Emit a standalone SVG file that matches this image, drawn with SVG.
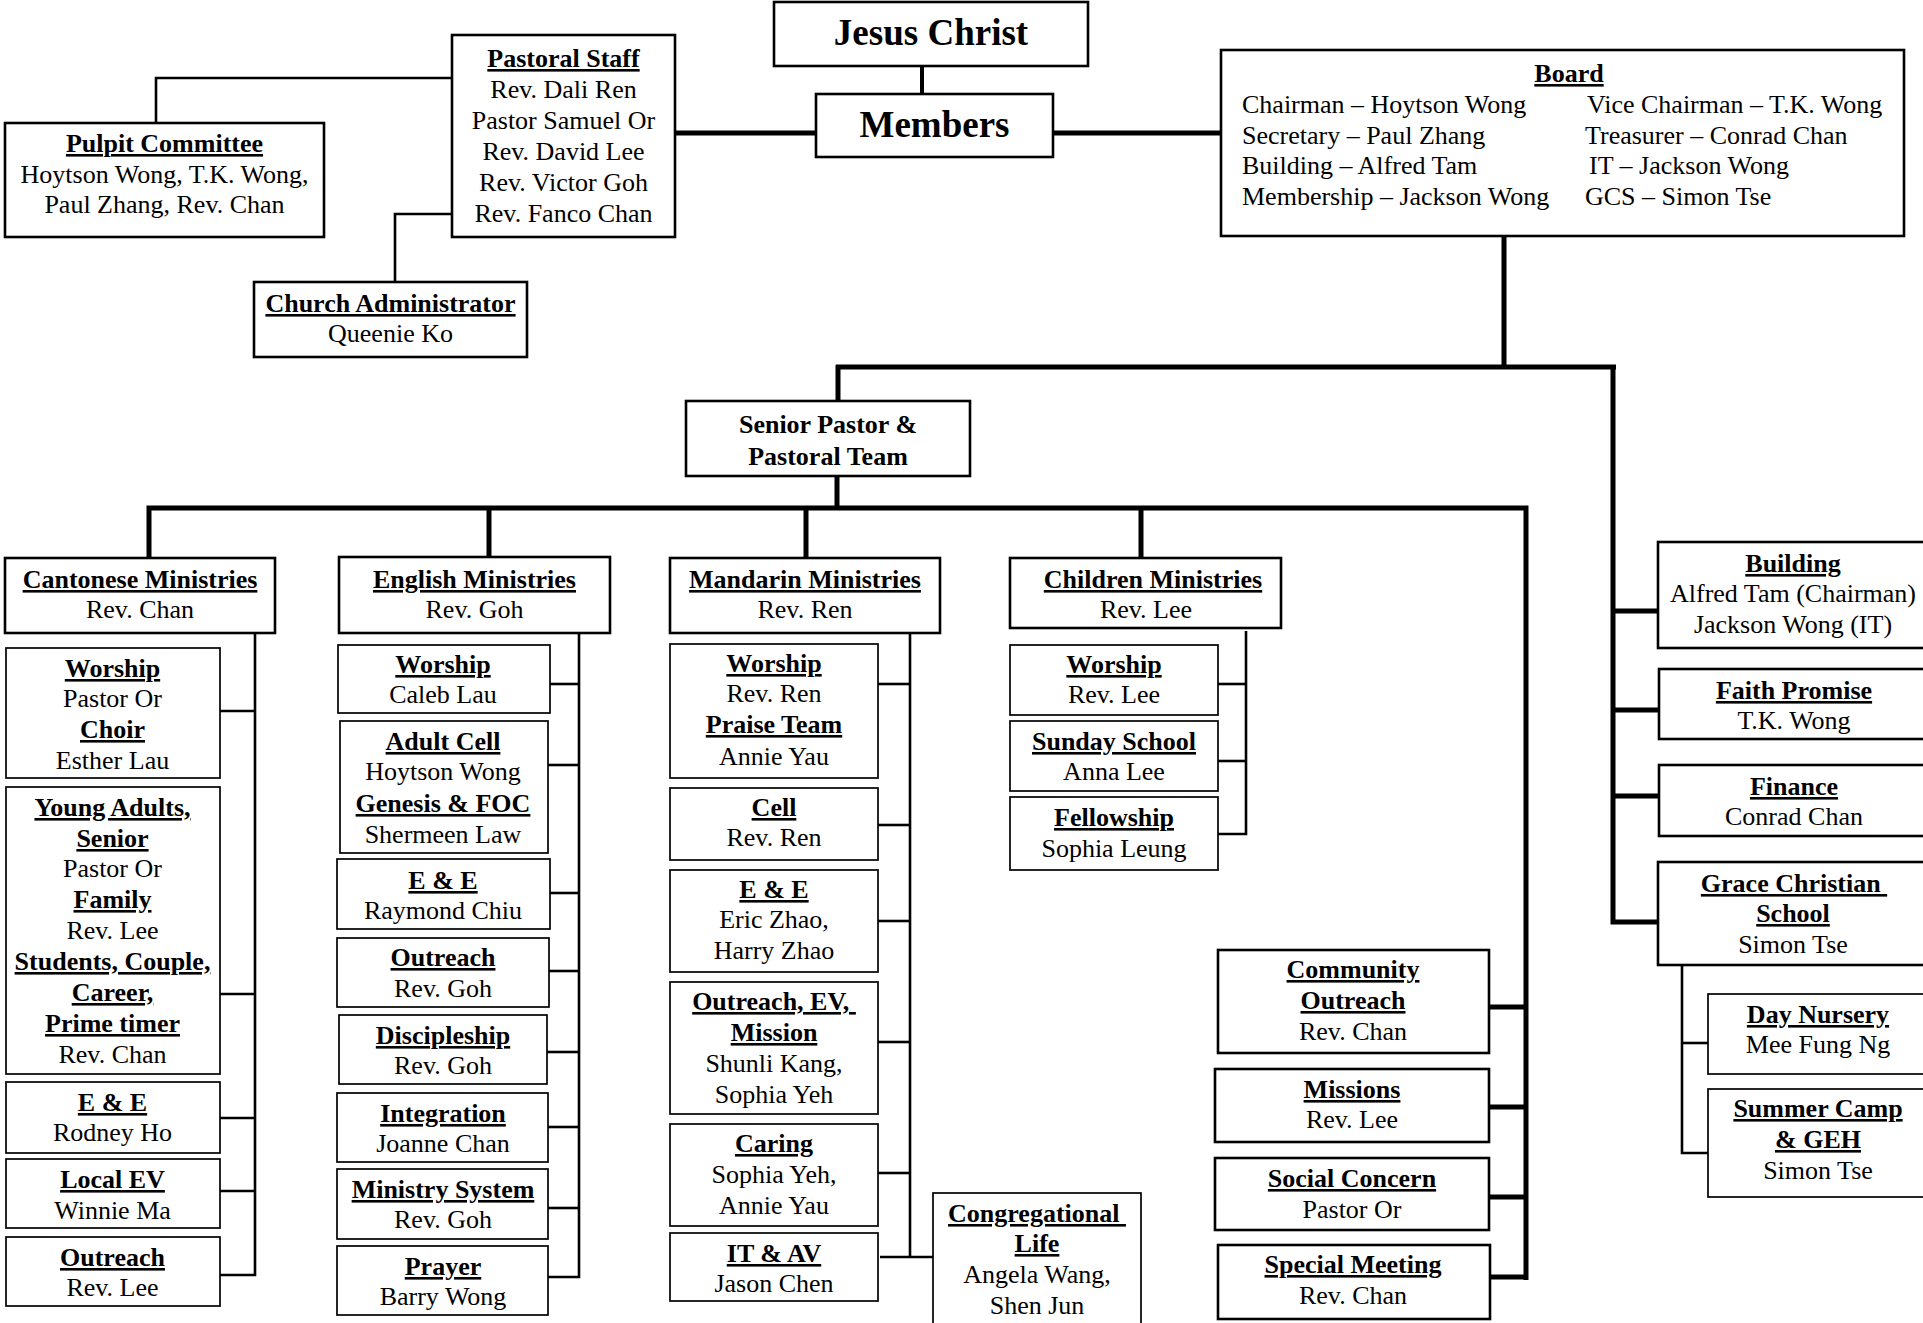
<svg xmlns="http://www.w3.org/2000/svg" width="1923" height="1323" viewBox="0 0 1923 1323">
<style>
text{font-family:"Liberation Serif","Times New Roman",serif;font-size:26px;fill:#000;text-anchor:middle}
.u{font-weight:bold;text-decoration:underline}
.h{font-weight:bold}
.big{font-weight:bold;font-size:37px}
.l{text-anchor:start}
.pre{white-space:pre}
.box{fill:#fff;stroke:#000;stroke-width:2.6}
.sub{fill:#fff;stroke:#000;stroke-width:1.7}
.thin{fill:none;stroke:#000;stroke-width:2.6}
.thick{fill:none;stroke:#000;stroke-width:5}
</style>
<rect width="1923" height="1323" fill="#fff"/>
<g id="connectors">
<line class="thick" x1="922" y1="66" x2="922" y2="94" style="stroke-width:4"/>
<line class="thick" x1="675" y1="133" x2="816" y2="133"/>
<line class="thick" x1="1053" y1="133" x2="1221" y2="133"/>
<polyline class="thin" points="452,78 156,78 156,123"/>
<polyline class="thin" points="452,214 395,214 395,282"/>
<line class="thick" x1="1504" y1="236" x2="1504" y2="367"/>
<line class="thick" x1="836" y1="367" x2="1616" y2="367"/>
<line class="thick" x1="838" y1="365" x2="838" y2="401"/>
<polyline class="thick" points="1613,365 1613,922 1658,922"/>
<line class="thick" x1="1613" y1="611" x2="1658" y2="611"/>
<line class="thick" x1="1613" y1="710" x2="1658" y2="710"/>
<line class="thick" x1="1613" y1="796" x2="1658" y2="796"/>
<polyline class="thin" points="1682,965 1682,1153 1708,1153"/>
<line class="thin" x1="1682" y1="1043" x2="1708" y2="1043"/>
<line class="thick" x1="837" y1="476" x2="837" y2="508"/>
<polyline class="thick" points="149,558 149,508 1526,508 1526,1280"/>
<line class="thick" x1="489" y1="508" x2="489" y2="557"/>
<line class="thick" x1="806" y1="508" x2="806" y2="558"/>
<line class="thick" x1="1141" y1="508" x2="1141" y2="558"/>
<line class="thick" x1="1489" y1="1007" x2="1526" y2="1007"/>
<line class="thick" x1="1489" y1="1107" x2="1526" y2="1107"/>
<line class="thick" x1="1489" y1="1197" x2="1526" y2="1197"/>
<line class="thick" x1="1490" y1="1277" x2="1526" y2="1277"/>
<polyline class="thin" points="255,633 255,1275 220,1275"/>
<line class="thin" x1="220" y1="711" x2="255" y2="711"/>
<line class="thin" x1="220" y1="994" x2="255" y2="994"/>
<line class="thin" x1="220" y1="1118" x2="255" y2="1118"/>
<line class="thin" x1="220" y1="1191" x2="255" y2="1191"/>
<polyline class="thin" points="579,633 579,1277 548,1277"/>
<line class="thin" x1="550" y1="684" x2="579" y2="684"/>
<line class="thin" x1="548" y1="765" x2="579" y2="765"/>
<line class="thin" x1="550" y1="893" x2="579" y2="893"/>
<line class="thin" x1="549" y1="971" x2="579" y2="971"/>
<line class="thin" x1="547" y1="1052" x2="579" y2="1052"/>
<line class="thin" x1="548" y1="1127" x2="579" y2="1127"/>
<line class="thin" x1="548" y1="1208" x2="579" y2="1208"/>
<polyline class="thin" points="910,633 910,1257"/>
<line class="thin" x1="878" y1="684" x2="910" y2="684"/>
<line class="thin" x1="878" y1="825" x2="910" y2="825"/>
<line class="thin" x1="878" y1="921" x2="910" y2="921"/>
<line class="thin" x1="878" y1="1042" x2="910" y2="1042"/>
<line class="thin" x1="878" y1="1173" x2="910" y2="1173"/>
<line class="thin" x1="880" y1="1257" x2="933" y2="1257"/>
<polyline class="thin" points="1246,631 1246,834 1218,834"/>
<line class="thin" x1="1218" y1="684" x2="1246" y2="684"/>
<line class="thin" x1="1218" y1="761" x2="1246" y2="761"/>
</g>
<g id="jesus"><rect class="box" x="774" y="2" width="314" height="64"/><text class="big" x="931" y="45">Jesus Christ</text></g>
<g id="members"><rect class="box" x="816" y="94" width="237" height="63"/><text class="big" x="934.5" y="137">Members</text></g>
<g id="pastoral-staff"><rect class="box" x="452" y="35" width="223" height="202"/>
<text class="u" x="563.5" y="67">Pastoral Staff</text><text x="563.5" y="98">Rev. Dali Ren</text><text x="563.5" y="129">Pastor Samuel Or</text><text x="563.5" y="160">Rev. David Lee</text><text x="563.5" y="191">Rev. Victor Goh</text><text x="563.5" y="222">Rev. Fanco Chan</text></g>
<g id="pulpit"><rect class="box" x="5" y="123" width="319" height="114"/>
<text class="u" x="164.5" y="152">Pulpit Committee</text><text x="164.5" y="183">Hoytson Wong, T.K. Wong,</text><text x="164.5" y="213">Paul Zhang, Rev. Chan</text></g>
<g id="admin"><rect class="box" x="254" y="282" width="273" height="75"/>
<text class="u" x="390.5" y="312">Church Administrator</text><text x="390.5" y="342">Queenie Ko</text></g>
<g id="board"><rect class="box" x="1221" y="50" width="683" height="186"/>
<text class="u" x="1569" y="82">Board</text>
<text class="l" x="1242" y="113">Chairman – Hoytson Wong</text><text class="l" x="1242" y="144">Secretary – Paul Zhang</text><text class="l" x="1242" y="174">Building – Alfred Tam</text><text class="l" x="1242" y="205">Membership – Jackson Wong</text>
<text class="l" x="1587" y="113">Vice Chairman – T.K. Wong</text><text class="l" x="1585" y="144">Treasurer – Conrad Chan</text><text class="l" x="1589" y="174">IT – Jackson Wong</text><text class="l" x="1585" y="205">GCS – Simon Tse</text></g>
<g id="senior"><rect class="box" x="686" y="401" width="284" height="75"/>
<text class="h" x="828" y="433">Senior Pastor &amp;</text><text class="h" x="828" y="465">Pastoral Team</text></g>
<g id="cantonese"><rect class="box" x="5" y="558" width="270" height="75"/>
<text class="u" x="140" y="588">Cantonese Ministries</text><text x="140" y="618">Rev. Chan</text></g>
<g id="english"><rect class="box" x="339" y="557" width="271" height="76"/>
<text class="u" x="474.5" y="588">English Ministries</text><text x="474.5" y="618">Rev. Goh</text></g>
<g id="mandarin"><rect class="box" x="670" y="558" width="270" height="75"/>
<text class="u" x="805" y="588">Mandarin Ministries</text><text x="805" y="618">Rev. Ren</text></g>
<g id="children"><rect class="box" x="1010" y="558" width="271" height="70"/>
<text class="u" x="1153" y="588">Children Ministries</text><text x="1146" y="618">Rev. Lee</text></g>
<g id="c-worship"><rect class="sub" x="6" y="648" width="214" height="130"/>
<text class="u" x="112.5" y="677">Worship</text><text x="112.5" y="707">Pastor Or</text><text class="u" x="112.5" y="738">Choir</text><text x="112.5" y="769">Esther Lau</text></g>
<g id="c-young"><rect class="sub" x="6" y="787" width="214" height="287"/>
<text class="u" x="112.5" y="816">Young Adults,</text><text class="u" x="112.5" y="847">Senior</text><text x="112.5" y="877">Pastor Or</text><text class="u" x="112.5" y="908">Family</text><text x="112.5" y="939">Rev. Lee</text><text class="u" x="112.5" y="970">Students, Couple,</text><text class="u" x="112.5" y="1001">Career,</text><text class="u" x="112.5" y="1032">Prime timer</text><text x="112.5" y="1063">Rev. Chan</text></g>
<g id="c-ee"><rect class="sub" x="6" y="1082" width="214" height="71"/>
<text class="u" x="112.5" y="1111">E &amp; E</text><text x="112.5" y="1141">Rodney Ho</text></g>
<g id="c-localev"><rect class="sub" x="6" y="1159" width="214" height="69"/>
<text class="u" x="112.5" y="1188">Local EV</text><text x="112.5" y="1219">Winnie Ma</text></g>
<g id="c-outreach"><rect class="sub" x="6" y="1237" width="214" height="69"/>
<text class="u" x="112.5" y="1266">Outreach</text><text x="112.5" y="1296">Rev. Lee</text></g>
<g id="e-worship"><rect class="sub" x="338" y="645" width="212" height="68"/>
<text class="u" x="443" y="673">Worship</text><text x="443" y="703">Caleb Lau</text></g>
<g id="e-adult"><rect class="sub" x="340" y="721" width="208" height="132"/>
<text class="u" x="443" y="750">Adult Cell</text><text x="443" y="780">Hoytson Wong</text><text class="u" x="443" y="812">Genesis &amp; FOC</text><text x="443" y="843">Shermeen Law</text></g>
<g id="e-ee"><rect class="sub" x="337" y="859" width="213" height="70"/>
<text class="u" x="443" y="889">E &amp; E</text><text x="443" y="919">Raymond Chiu</text></g>
<g id="e-outreach"><rect class="sub" x="337" y="938" width="212" height="69"/>
<text class="u" x="443" y="966">Outreach</text><text x="443" y="997">Rev. Goh</text></g>
<g id="e-disc"><rect class="sub" x="339" y="1015" width="208" height="69"/>
<text class="u" x="443" y="1044">Discipleship</text><text x="443" y="1074">Rev. Goh</text></g>
<g id="e-integ"><rect class="sub" x="337" y="1093" width="211" height="69"/>
<text class="u" x="443" y="1122">Integration</text><text x="443" y="1152">Joanne Chan</text></g>
<g id="e-ministry"><rect class="sub" x="337" y="1169" width="211" height="70"/>
<text class="u" x="443" y="1198">Ministry System</text><text x="443" y="1228">Rev. Goh</text></g>
<g id="e-prayer"><rect class="sub" x="337" y="1246" width="211" height="69"/>
<text class="u" x="443" y="1275">Prayer</text><text x="443" y="1305">Barry Wong</text></g>
<g id="m-worship"><rect class="sub" x="670" y="644" width="208" height="134"/>
<text class="u" x="774" y="672">Worship</text><text x="774" y="702">Rev. Ren</text><text class="u" x="774" y="733">Praise Team</text><text x="774" y="765">Annie Yau</text></g>
<g id="m-cell"><rect class="sub" x="670" y="788" width="208" height="72"/>
<text class="u" x="774" y="816">Cell</text><text x="774" y="846">Rev. Ren</text></g>
<g id="m-ee"><rect class="sub" x="670" y="870" width="208" height="102"/>
<text class="u" x="774" y="898">E &amp; E</text><text x="774" y="928">Eric Zhao,</text><text x="774" y="959">Harry Zhao</text></g>
<g id="m-outreach"><rect class="sub" x="670" y="982" width="208" height="132"/>
<text class="u pre" x="774" y="1010">Outreach, EV, </text><text class="u" x="774" y="1041">Mission</text><text x="774" y="1072">Shunli Kang,</text><text x="774" y="1103">Sophia Yeh</text></g>
<g id="m-caring"><rect class="sub" x="670" y="1124" width="208" height="102"/>
<text class="u" x="774" y="1152">Caring</text><text x="774" y="1183">Sophia Yeh,</text><text x="774" y="1214">Annie Yau</text></g>
<g id="m-itav"><rect class="sub" x="670" y="1233" width="208" height="68"/>
<text class="u" x="774" y="1262">IT &amp; AV</text><text x="774" y="1292">Jason Chen</text></g>
<g id="m-congregational"><rect class="sub" x="933" y="1193" width="208" height="150"/>
<text class="u pre" x="1037" y="1222">Congregational </text><text class="u" x="1037" y="1252">Life</text><text x="1037" y="1283">Angela Wang,</text><text x="1037" y="1314">Shen Jun</text></g>
<g id="k-worship"><rect class="sub" x="1010" y="645" width="208" height="70"/>
<text class="u" x="1114" y="673">Worship</text><text x="1114" y="703">Rev. Lee</text></g>
<g id="k-sunday"><rect class="sub" x="1010" y="721" width="208" height="70"/>
<text class="u" x="1114" y="750">Sunday School</text><text x="1114" y="780">Anna Lee</text></g>
<g id="k-fellowship"><rect class="sub" x="1010" y="797" width="208" height="73"/>
<text class="u" x="1114" y="826">Fellowship</text><text x="1114" y="857">Sophia Leung</text></g>
<g id="community"><rect class="box" x="1218" y="950" width="271" height="103"/>
<text class="u" x="1353" y="978">Community</text><text class="u" x="1353" y="1009">Outreach</text><text x="1353" y="1040">Rev. Chan</text></g>
<g id="missions"><rect class="box" x="1215" y="1069" width="274" height="73"/>
<text class="u" x="1352" y="1098">Missions</text><text x="1352" y="1128">Rev. Lee</text></g>
<g id="social"><rect class="box" x="1215" y="1158" width="274" height="72"/>
<text class="u" x="1352" y="1187">Social Concern</text><text x="1352" y="1218">Pastor Or</text></g>
<g id="special"><rect class="box" x="1218" y="1245" width="272" height="74"/>
<text class="u" x="1353" y="1273">Special Meeting</text><text x="1353" y="1304">Rev. Chan</text></g>
<g id="building"><rect class="box" x="1658" y="542" width="300" height="106"/>
<text class="u" x="1793" y="572">Building</text><text x="1793" y="602">Alfred Tam (Chairman)</text><text x="1793" y="633">Jackson Wong (IT)</text></g>
<g id="faith"><rect class="box" x="1659" y="669" width="300" height="70"/>
<text class="u" x="1794" y="699">Faith Promise</text><text x="1794" y="729">T.K. Wong</text></g>
<g id="finance"><rect class="box" x="1659" y="765" width="300" height="71"/>
<text class="u" x="1794" y="795">Finance</text><text x="1794" y="825">Conrad Chan</text></g>
<g id="grace"><rect class="box" x="1658" y="862" width="300" height="103"/>
<text class="u pre" x="1794" y="892">Grace Christian </text><text class="u" x="1793" y="922">School</text><text x="1793" y="953">Simon Tse</text></g>
<g id="nursery"><rect class="sub" x="1708" y="994" width="250" height="80"/>
<text class="u" x="1818" y="1023">Day Nursery</text><text x="1818" y="1053">Mee Fung Ng</text></g>
<g id="summer"><rect class="sub" x="1708" y="1089" width="250" height="108"/>
<text class="u" x="1818" y="1117">Summer Camp</text><text class="u" x="1818" y="1148">&amp; GEH</text><text x="1818" y="1179">Simon Tse</text></g>
</svg>
